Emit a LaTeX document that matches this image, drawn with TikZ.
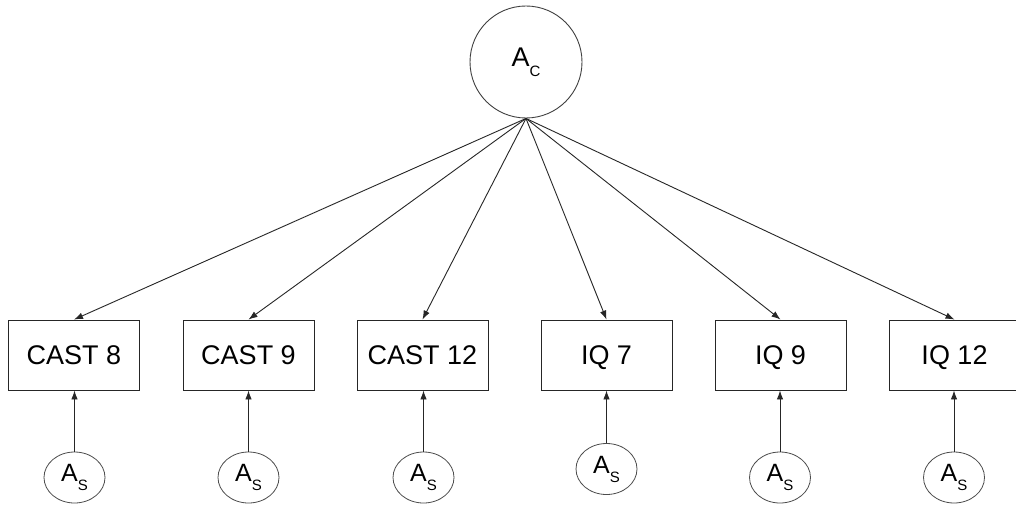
\documentclass[tikz,border=0pt]{standalone}
\usepackage{fontspec}
\setmainfont{Liberation Sans}
\usetikzlibrary{arrows.meta,shapes.geometric}
\newcommand{\Lat}[1]{A\raisebox{-0.36em}{\fontsize{15}{15}\selectfont #1}}
\begin{document}
\begin{tikzpicture}[x=1pt,y=-1pt,
  latent/.style={draw=black!75,line width=0.9pt,circle,minimum size=112pt,inner sep=0pt,font=\fontsize{27}{27}\selectfont},
  obsbox/.style={draw=black!85,line width=0.9pt,rectangle,minimum width=131pt,minimum height=70pt,inner sep=0pt,text height=19.5pt,text depth=0pt,font=\fontsize{27}{27}\selectfont},
  errnode/.style={draw=black!70,line width=0.8pt,ellipse,minimum width=61pt,minimum height=51pt,inner sep=0pt,font=\fontsize{25}{25}\selectfont},
  path/.style={draw=black!85,line width=0.9pt,-{Latex[length=9pt,width=6.5pt]}}
]
\useasboundingbox (0,0) rectangle (1016,508);
\fill[white] (0,0) rectangle (1016,508);
\node[latent] (ac) at (526,62) {\Lat{C}};
\node[obsbox] (b1) at (74,355) {CAST 8};
\node[obsbox] (b2) at (248.5,355) {CAST 9};
\node[obsbox] (b3) at (422.5,355) {CAST 12};
\node[obsbox] (b4) at (606.5,355) {IQ 7};
\node[obsbox] (b5) at (780.5,355) {IQ 9};
\node[obsbox] (b6) at (954.5,355) {IQ 12};
\node[errnode] (e1) at (74.5,477.5) {\Lat{S}};
\node[errnode] (e2) at (248.5,477.5) {\Lat{S}};
\node[errnode] (e3) at (423.5,477.5) {\Lat{S}};
\node[errnode] (e4) at (606.5,469) {\Lat{S}};
\node[errnode] (e5) at (780,477.5) {\Lat{S}};
\node[errnode] (e6) at (954,477.5) {\Lat{S}};
\foreach \i in {1,...,6} {
  \draw[path] (ac.south) -- (b\i.north);
  \draw[path] (e\i.north) -- (e\i.north |- b\i.south);
}
\end{tikzpicture}
\end{document}
